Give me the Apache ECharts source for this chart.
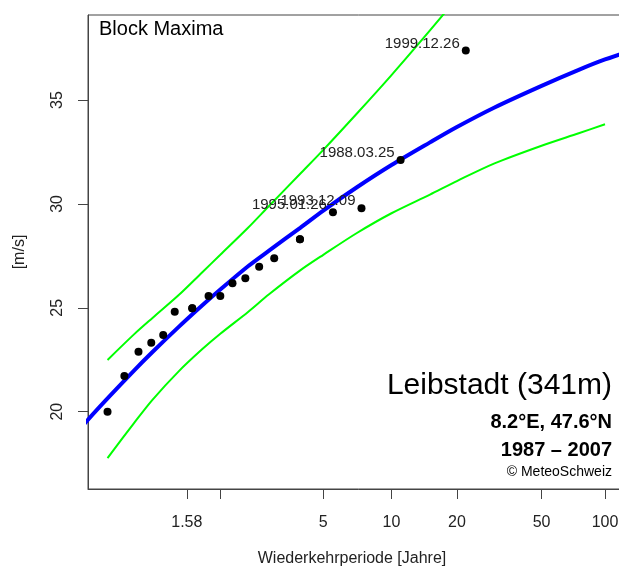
<!DOCTYPE html>
<html><head><meta charset="utf-8">
<script src="https://cdn.jsdelivr.net/npm/echarts@6/dist/echarts.min.js"></script>
<style>html,body{margin:0;padding:0;background:#fff;overflow:hidden;width:619px;height:575px}#c{width:629px;height:575px}</style>
</head><body><div id="c"></div>
<script>
// ---- data (return period in years, wind speed in m/s) ----
const obsReturnPeriod = [1.1, 1.158, 1.222, 1.294, 1.375, 1.467, 1.637, 1.637, 1.833, 2.0, 2.2, 2.444, 2.75, 3.143, 3.99, 3.99, 5.5, 7.333, 11, 22];
const obsWind = [20.0, 21.72, 22.89, 23.32, 23.69, 24.81, 24.98, 24.98, 25.57, 25.57, 26.18, 26.42, 26.98, 27.38, 28.30, 28.30, 29.60, 29.79, 32.11, 37.38];
const obsDates = ['', '', '', '', '', '', '', '', '', '', '', '', '', '', '', '', '1995.01.26', '1993.12.09', '1988.03.25', '1999.12.26'];

const fitReturnPeriod = [1.02, 1.05, 1.1, 1.2, 1.3, 1.5, 1.75, 2, 2.5, 3, 4, 5, 7, 10, 15, 20, 30, 50, 75, 100, 150];
const fitLevel = [18.21, 19.50, 20.64, 21.98, 22.86, 24.07, 25.11, 25.88, 27.00, 27.75, 28.85, 29.68, 30.80, 31.87, 32.96, 33.70, 34.64, 35.68, 36.45, 36.95, 37.55];

const upperReturnPeriod = [1.1, 1.2, 1.3, 1.5, 1.75, 2, 2.5, 3, 4, 5, 7, 10, 15, 20];
const upperLevel = [22.49, 23.72, 24.5, 25.6, 26.7, 27.55, 28.85, 29.9, 31.45, 32.6, 34.35, 36.2, 38.35, 39.9];

const lowerReturnPeriod = [1.1, 1.2, 1.3, 1.5, 1.75, 2, 2.5, 3, 4, 5, 7, 10, 15, 20, 30, 50, 75, 100];
const lowerLevel = [17.77, 19.45, 20.56, 21.93, 23.0, 23.75, 24.8, 25.65, 26.8, 27.55, 28.6, 29.55, 30.45, 31.1, 31.95, 32.8, 33.4, 33.83];

const xTickPeriods = [1.58, 2, 5, 10, 20, 50, 100];
const xLabelPeriods = [1.58, 5, 10, 20, 50, 100];
const xLabelTexts = ['1.58', '5', '10', '20', '50', '100'];
const yTicks = [20, 25, 30, 35];

// Gumbel reduced variate scale
const gumbel = T => -Math.log(-Math.log(1 - 1 / T));
const pairs = (ts, vs) => ts.map((t, i) => [gumbel(t), vs[i]]);

const FONT = '"Liberation Sans", Arial, Helvetica, sans-serif';
const xLabelG = xLabelPeriods.map(gumbel);

const chart = echarts.init(document.getElementById('c'), null, {renderer: 'canvas'});
chart.setOption({
  animation: false,
  backgroundColor: '#fff',
  grid: {left: 88, right: 0, top: 15, bottom: 86, show: true, borderColor: '#444', borderWidth: 1},
  xAxis: {
    type: 'value', min: -1.0895, max: 4.864,
    axisLine: {show: true, onZero: false, lineStyle: {color: '#444', width: 1}},
    axisTick: {show: true, length: 10, customValues: xTickPeriods.map(gumbel), lineStyle: {color: '#444'}},
    axisLabel: {
      customValues: xLabelG, margin: 26, fontSize: 16, color: '#222', fontFamily: FONT,
      formatter: v => {
        let best = 0;
        xLabelG.forEach((g, i) => { if (Math.abs(g - v) < Math.abs(xLabelG[best] - v)) best = i; });
        return xLabelTexts[best];
      }
    },
    splitLine: {show: false},
    name: 'Wiederkehrperiode [Jahre]', nameLocation: 'middle', nameGap: 62,
    nameTextStyle: {fontSize: 16, color: '#222', fontFamily: FONT, padding: [0, 13, 0, 0]}
  },
  yAxis: {
    type: 'value', min: 16.28, max: 39.09,
    axisLine: {show: true, onZero: false, lineStyle: {color: '#444', width: 1}},
    axisTick: {show: true, length: 10, customValues: yTicks, lineStyle: {color: '#444'}},
    axisLabel: {customValues: yTicks, rotate: 90, margin: 22, fontSize: 16, color: '#222', fontFamily: FONT},
    splitLine: {show: false},
    name: '[m/s]', nameLocation: 'middle', nameGap: 60, nameRotate: 90,
    nameTextStyle: {fontSize: 16, color: '#222', fontFamily: FONT}
  },
  series: [
    {type: 'line', data: pairs(upperReturnPeriod, upperLevel), showSymbol: false, smooth: 0.3, clip: true,
     lineStyle: {color: '#00ff00', width: 2}, z: 2},
    {type: 'line', data: pairs(lowerReturnPeriod, lowerLevel), showSymbol: false, smooth: 0.3, clip: true,
     lineStyle: {color: '#00ff00', width: 2}, z: 2},
    {type: 'line', data: pairs(fitReturnPeriod, fitLevel), showSymbol: false, smooth: 0.3, clip: true,
     lineStyle: {color: '#0000ff', width: 4}, z: 3},
    {type: 'scatter', data: pairs(obsReturnPeriod, obsWind), symbol: 'circle', symbolSize: 8,
     itemStyle: {color: '#000', opacity: 1}, z: 4,
     label: {show: true, position: 'left', distance: 2, offset: [0, -7], fontSize: 15, color: '#222', fontFamily: FONT,
             formatter: p => obsDates[p.dataIndex]}}
  ],
  graphic: [
    {type: 'text', left: 99, top: 19, style: {text: 'Block Maxima', font: '20px ' + FONT, fill: '#000'}},
    {type: 'text', x: 612, y: 386, style: {text: 'Leibstadt (341m)', font: '30px ' + FONT, fill: '#000', textAlign: 'right', textVerticalAlign: 'middle'}},
    {type: 'text', x: 612, y: 422, style: {text: '8.2°E, 47.6°N', font: 'bold 20px ' + FONT, fill: '#000', textAlign: 'right', textVerticalAlign: 'middle'}},
    {type: 'text', x: 612, y: 450, style: {text: '1987 – 2007', font: 'bold 20px ' + FONT, fill: '#000', textAlign: 'right', textVerticalAlign: 'middle'}},
    {type: 'text', x: 612, y: 472, style: {text: '© MeteoSchweiz', font: '14px ' + FONT, fill: '#000', textAlign: 'right', textVerticalAlign: 'middle'}}
  ]
});
</script></body></html>
